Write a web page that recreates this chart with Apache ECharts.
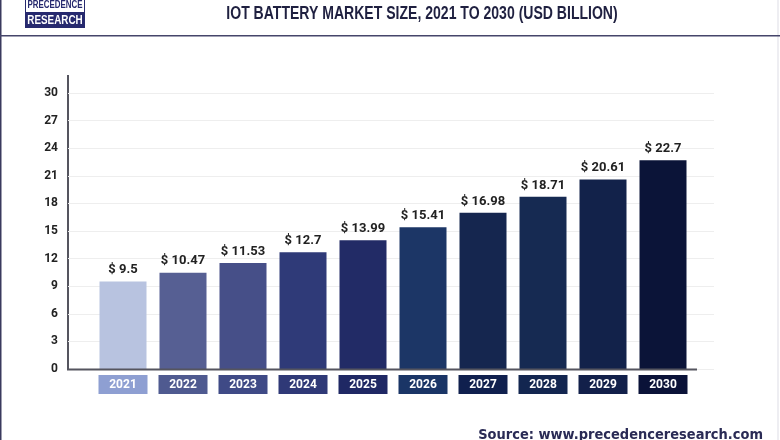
<!DOCTYPE html>
<html>
<head>
<meta charset="utf-8">
<style>html,body{margin:0;padding:0;background:#fff}#chart{width:780px;height:440px}</style>
<script src="https://cdn.jsdelivr.net/npm/echarts@6/dist/echarts.min.js"></script>
</head>
<body>
<div id="chart"></div>
<script>
const years = ['2021', '2022', '2023', '2024', '2025', '2026', '2027', '2028', '2029', '2030'];
const marketSize = [9.5, 10.47, 11.53, 12.7, 13.99, 15.41, 16.98, 18.71, 20.61, 22.7];
const barColors = ['#b8c3e0', '#565f93', '#464f88', '#2f3a78', '#222b66', '#1c3666', '#15264f', '#162a52', '#12224a', '#0b1438'];
const boxColors = ['#8e9fd2', '#4f5a90', '#3f4a86', '#2f3977', '#1f2864', '#1a3566', '#10204e', '#132650', '#12204a', '#0a1238'];
const labelFont = 'Roboto, "Liberation Sans", sans-serif';
const headFont = '"Liberation Sans", sans-serif';
const ink = '#2a2b55';

// one rich style per year, the boxes under the bars have their own colour
const rich = {};
boxColors.forEach((c, i) => {
    rich['b' + i] = {
        backgroundColor: c, color: '#fff', width: 49, height: 19, lineHeight: 19,
        align: 'center', fontFamily: labelFont, fontSize: 12, fontWeight: 'bold'
    };
});

const myChart = echarts.init(document.getElementById('chart'));
myChart.setOption({
    animation: false,
    backgroundColor: '#fff',
    grid: [
        { left: 68, right: 66, top: 93, height: 276 },
        { left: 93, width: 600, top: 93, height: 276 }
    ],
    xAxis: [
        { gridIndex: 0, type: 'value', min: 0, max: 1, show: false },
        {
            gridIndex: 1, type: 'category', data: years,
            axisLine: { show: false }, axisTick: { show: false },
            axisLabel: {
                interval: 0,
                margin: 6,
                formatter: (v, i) => `{b${i}|${v}}`,
                rich: rich
            }
        }
    ],
    yAxis: [
        {
            gridIndex: 0, type: 'value', min: 0, max: 30, interval: 3,
            axisLine: { show: false }, axisTick: { show: false },
            axisLabel: { margin: 10, padding: [0, 0, 4, 0], color: '#222', fontFamily: labelFont, fontSize: 12, fontWeight: 'bold' },
            splitLine: { lineStyle: { color: '#eeeeee', width: 1 } }
        },
        { gridIndex: 1, type: 'value', min: 0, max: 30, show: false }
    ],
    series: [{
        type: 'bar',
        xAxisIndex: 1,
        yAxisIndex: 1,
        barWidth: 47,
        data: marketSize.map((v, i) => ({ value: v, itemStyle: { color: barColors[i] } })),
        label: {
            show: true, position: 'top', distance: 5,
            formatter: p => '$ ' + p.value,
            color: '#222', fontFamily: labelFont, fontSize: 13, fontWeight: 'bold'
        }
    }],
    graphic: [
        // page frame and header rule
        { type: 'rect', shape: { x: 0, y: 0, width: 1.5, height: 440 }, style: { fill: '#3a3a5e' } },
        { type: 'rect', shape: { x: 777.5, y: 0, width: 1, height: 440 }, style: { fill: '#dddde6' } },
        { type: 'rect', shape: { x: 0, y: 35, width: 780, height: 1.5 }, style: { fill: '#45456a' } },
        // logo
        { type: 'rect', shape: { x: 25, y: 0, width: 60, height: 28 }, style: { fill: '#26296e' } },
        { type: 'rect', shape: { x: 26, y: 0, width: 58, height: 12 }, style: { fill: '#fff' } },
        { type: 'text', x: 55, y: 5, scaleX: 0.72, style: { text: 'PRECEDENCE', font: 'bold 11px ' + headFont, fill: '#26296e', align: 'center', verticalAlign: 'middle' } },
        { type: 'text', x: 55, y: 20, scaleX: 0.76, style: { text: 'RESEARCH', font: 'bold 13px ' + headFont, fill: '#fff', align: 'center', verticalAlign: 'middle' } },
        // title and source
        { type: 'text', x: 422, y: 14, scaleX: 0.78, style: { text: 'IOT BATTERY MARKET SIZE, 2021 TO 2030 (USD BILLION)', font: 'bold 18px ' + headFont, fill: '#1f2040', align: 'center', verticalAlign: 'middle' } },
        { type: 'text', x: 763, y: 435, scaleX: 0.93, style: { text: 'Source: www.precedenceresearch.com', font: 'bold 14px "DejaVu Sans", sans-serif', fill: ink, align: 'right', verticalAlign: 'middle' } },
        // axis lines
        { type: 'line', shape: { x1: 68, y1: 75, x2: 68, y2: 370 }, style: { stroke: '#55555f', lineWidth: 2 } },
        { type: 'line', shape: { x1: 67, y1: 369.5, x2: 697, y2: 369.5 }, style: { stroke: '#55555f', lineWidth: 2 }, z: 10 }
    ]
});
</script>
</body>
</html>
